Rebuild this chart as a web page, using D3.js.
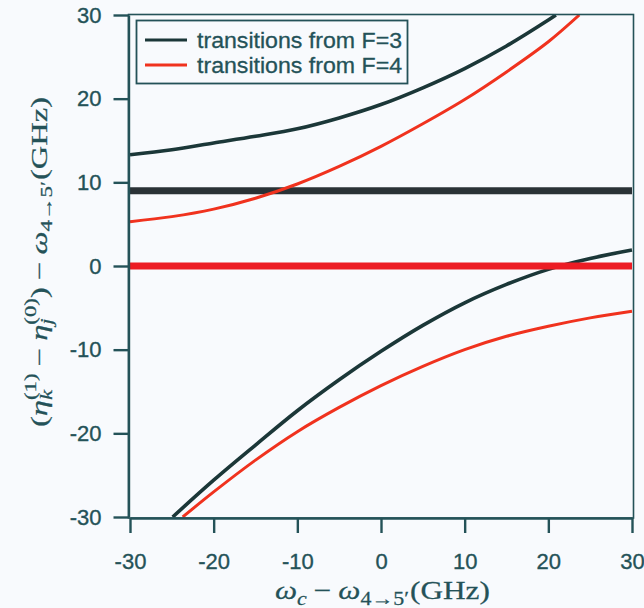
<!DOCTYPE html>
<html>
<head>
<meta charset="utf-8">
<script src="https://cdn.jsdelivr.net/npm/d3@7"></script>
<style>
  html, body { margin: 0; padding: 0; background: #f8fafd; }
  svg { display: block; }
</style>
</head>
<body>
<svg id="chart" width="644" height="608"></svg>
<script>
// Axis ticks
const xTicks = [-30, -20, -10, 0, 10, 20, 30];
const yTicks = [-30, -20, -10, 0, 10, 20, 30];

// Legend entries
const legendLabels = ["transitions from F=3", "transitions from F=4"];

// Transitions from F=3: two dressed branches and the flat level (GHz)
const f3Upper = [[-30, 13.3], [-25, 13.9], [-20, 14.7], [-15, 15.5], [-10, 16.4], [-5, 17.7],
                 [0, 19.3], [5, 21.3], [10, 23.6], [15, 26.3], [20, 29.4], [20.9, 30.0]];
const f3Lower = [[-24.9, -30], [-20, -25.6], [-15, -21.4], [-10, -17.3], [-5, -13.6], [0, -10.2],
                 [5, -7.1], [10, -4.4], [15, -2.2], [20, -0.4], [25, 0.9], [30, 1.9]];
const f3Level = [[-30, 9.0], [30, 9.0]];

// Transitions from F=4
const f4Upper = [[-30, 5.3], [-25, 5.9], [-20, 6.8], [-15, 8.1], [-10, 9.8], [-5, 11.9],
                 [0, 14.3], [5, 17.0], [10, 19.9], [15, 23.2], [20, 26.8], [23.7, 30.0]];
const f4Lower = [[-23.7, -30], [-20, -27.0], [-15, -23.2], [-10, -19.8], [-5, -16.9], [0, -14.3],
                 [5, -12.0], [10, -10.0], [15, -8.4], [20, -7.2], [25, -6.2], [30, -5.4]];
const f4Level = [[-30, 0.0], [30, 0.0]];

const ink = "#245258";
const darkCurve = "#1b3738";
const darkLevel = "#2a3236";
const redCurve = "#f0321e";
const redLevel = "#ec1c24";
const sans = "'Liberation Sans', Arial, sans-serif";

const svg = d3.select("#chart");
svg.append("rect").attr("width", 644).attr("height", 608).attr("fill", "#f8fafd");

const plot = { left: 128.5, right: 633.5, top: 14.5, bottom: 518 };
const x = d3.scaleLinear().domain([-30, 30]).range([130, 632]);
const y = d3.scaleLinear().domain([-30, 30]).range([517, 15]);

svg.append("clipPath").attr("id", "plotClip")
  .append("rect")
  .attr("x", plot.left).attr("y", plot.top)
  .attr("width", plot.right - plot.left).attr("height", plot.bottom - plot.top);

const line = d3.line().x(d => x(d[0])).y(d => y(d[1])).curve(d3.curveCatmullRom.alpha(0.5));
const marks = svg.append("g").attr("clip-path", "url(#plotClip)");

function drawSeries(data, color, width) {
  marks.append("path").datum(data)
    .attr("d", line)
    .attr("fill", "none")
    .attr("stroke", color)
    .attr("stroke-width", width)
    .attr("stroke-linecap", "butt");
}

drawSeries(f3Upper, darkCurve, 3.6);
drawSeries(f3Lower, darkCurve, 3.6);
drawSeries(f3Level, darkLevel, 7);
drawSeries(f4Upper, redCurve, 3);
drawSeries(f4Lower, redCurve, 3);
drawSeries(f4Level, redLevel, 7);

// Frame around the plot area
svg.append("rect")
  .attr("x", plot.left).attr("y", plot.top)
  .attr("width", plot.right - plot.left).attr("height", plot.bottom - plot.top)
  .attr("fill", "none").attr("stroke", ink).attr("stroke-width", 1.6);

// Axes
const fmt = d => String(d);
const xAxis = svg.append("g")
  .attr("transform", `translate(0,${plot.bottom})`)
  .call(d3.axisBottom(x).tickValues(xTicks).tickFormat(fmt).tickSize(15).tickSizeOuter(0).tickPadding(20));
const yAxis = svg.append("g")
  .attr("transform", `translate(${plot.left},0)`)
  .call(d3.axisLeft(y).tickValues(yTicks).tickFormat(fmt).tickSize(15).tickSizeOuter(0).tickPadding(12));

[xAxis, yAxis].forEach(a => {
  a.attr("font-size", null).attr("font-family", null);
  a.select(".domain").attr("stroke", ink).attr("stroke-width", 2.4);
  a.selectAll(".tick line").attr("stroke", ink).attr("stroke-width", 2.4);
  a.selectAll(".tick text")
    .attr("fill", ink)
    .attr("stroke", ink).attr("stroke-width", 0.35)
    .style("font-family", sans)
    .style("font-size", "22px");
});

// Legend
const legend = svg.append("g");
legend.append("rect")
  .attr("x", 136.5).attr("y", 20.5).attr("width", 271).attr("height", 63)
  .attr("fill", "#f8fafd").attr("stroke", ink).attr("stroke-width", 1.8);
const legendColors = [darkCurve, redCurve];
legendLabels.forEach((lab, i) => {
  const ly = 40 + i * 25;
  legend.append("line")
    .attr("x1", 145).attr("x2", 187).attr("y1", ly).attr("y2", ly)
    .attr("stroke", legendColors[i]).attr("stroke-width", 3);
  legend.append("text")
    .attr("x", 197).attr("y", ly + 7.5)
    .attr("fill", ink)
    .attr("stroke", ink).attr("stroke-width", 0.3)
    .style("font-family", sans)
    .style("font-size", "22px")
    .attr("textLength", 205)
    .attr("lengthAdjust", "spacingAndGlyphs")
    .text(lab);
});

// Typeset math labels from pieces (sub/superscripts, stacked scripts)
function addPiece(g, p, x0, size) {
  const s = size * (p.scale || 1);
  const t = g.append("text")
    .attr("x", x0 + (p.padL || 0) * size)
    .attr("y", (p.shift || 0) * size)
    .attr("font-size", s)
    .attr("font-style", p.it ? "italic" : "normal")
    .text(p.t);
  return t.node().getComputedTextLength() + ((p.padL || 0) + (p.padR || 0)) * size;
}
function mathLabel(parent, parts, size) {
  const g = parent.append("g")
    .attr("font-family", "'Liberation Serif', 'Times New Roman', serif")
    .attr("fill", ink)
    .attr("stroke", ink).attr("stroke-width", 0.25);
  let cx = 0;
  parts.forEach(p => {
    if (p.stack) {
      let w = 0;
      p.stack.forEach(q => { w = Math.max(w, addPiece(g, q, cx, size)); });
      cx += w;
    } else {
      cx += addPiece(g, p, cx, size);
    }
  });
  return { g, width: cx };
}

const sub = (t, it) => ({ t, it, scale: 0.7, shift: 0.22 });
const sup = (t, it) => ({ t, it, scale: 0.7, shift: -0.5 });
const minus = { t: "\u2212", padL: 0.22, padR: 0.22 };

const xLabelParts = [
  { t: "\u03c9", it: true }, sub("c", true), minus,
  { t: "\u03c9", it: true }, sub("4\u21925\u2032"), { t: "(GHz)", padL: 0.03 }
];
const yLabelParts = [
  { t: "(" }, { t: "\u03b7", it: true }, { stack: [sup("(1)"), sub("k", true)] }, minus,
  { t: "\u03b7", it: true }, { stack: [sup("(0)"), sub("j", true)] }, { t: ")" }, minus,
  { t: "\u03c9", it: true }, sub("4\u21925\u2032"), { t: "(GHz)", padL: 0.03 }
];

const xl = mathLabel(svg, xLabelParts, 26);
xl.g.attr("transform", `translate(275,599) scale(${215 / xl.width},1)`);

const yl = mathLabel(svg, yLabelParts, 23);
yl.g.attr("transform", `translate(47,427) rotate(-90) scale(${330 / yl.width},1)`);
</script>
</body>
</html>
